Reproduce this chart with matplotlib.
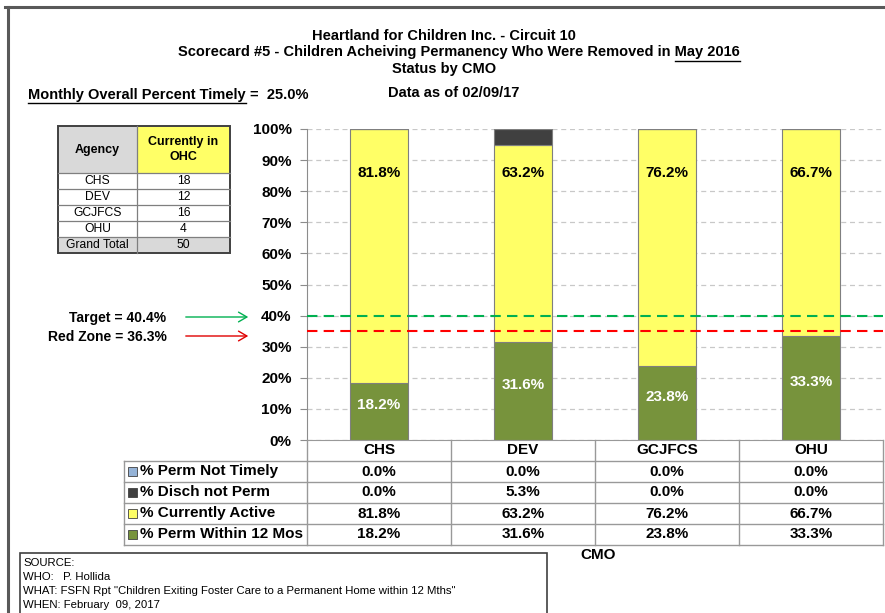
import matplotlib
matplotlib.use('Agg')
import matplotlib.pyplot as plt
from matplotlib import font_manager
from matplotlib.patches import Rectangle, FancyArrowPatch
from matplotlib.lines import Line2D
import numpy as np

# ---------------- data ----------------
categories = ['CHS', 'DEV', 'GCJFCS', 'OHU']
series_names = ['% Perm Not Timely', '% Disch not Perm', '% Currently Active', '% Perm Within 12 Mos']
perm_not_timely = [0.0, 0.0, 0.0, 0.0]
disch_not_perm = [0.0, 5.3, 0.0, 0.0]
currently_active = [81.8, 63.2, 76.2, 66.7]
perm_within_12 = [18.2, 31.6, 23.8, 33.3]
yticks = [0, 10, 20, 30, 40, 50, 60, 70, 80, 90, 100]

agencies = ['CHS', 'DEV', 'GCJFCS', 'OHU', 'Grand Total']
ohc_counts = [18, 12, 16, 4, 50]

overall_timely = 25.0
data_as_of = '02/09/17'
target_label_value = 40.4
red_zone_label_value = 36.3
target_line_value = 40.0
red_line_value = 35.0

source_lines = ['SOURCE:',
                'WHO:   P. Hollida',
                'WHAT: FSFN Rpt "Children Exiting Foster Care to a Permanent Home within 12 Mths"',
                'WHEN: February  09, 2017']

# ---------------- styles ----------------
names = {f.name for f in font_manager.fontManager.ttflist}
NARROW = 'Liberation Sans Narrow' if 'Liberation Sans Narrow' in names else 'Liberation Sans'
ARIAL = 'Liberation Sans'
plt.rcParams['font.family'] = [ARIAL, 'DejaVu Sans']
TSIZE = 10.5

C_BLUE = '#95B3D7'
C_DARK = '#404040'
C_YEL = '#FFFF66'
C_GREEN = '#77933C'
series_colors = [C_BLUE, C_DARK, C_YEL, C_GREEN]
GRID = '#999999'

W, H = 885, 613
fig = plt.figure(figsize=(W / 100, H / 100), dpi=100)


def fx(x):
    return x / W


def fy(y):
    return 1 - y / H


AX_L, AX_R, AX_T, AX_B = 307, 883, 129, 440
ax = fig.add_axes([fx(AX_L), fy(AX_B), (AX_R - AX_L) / W, (AX_B - AX_T) / H])

x = np.arange(len(categories))
bw = 0.4
edge = '#7F7F7F'
b0 = np.zeros(len(categories))
ax.bar(x, perm_within_12, bw, bottom=b0, color=C_GREEN, edgecolor=edge, lw=0.8, zorder=2)
b1 = b0 + np.array(perm_within_12)
ax.bar(x, currently_active, bw, bottom=b1, color=C_YEL, edgecolor=edge, lw=0.8, zorder=2)
b2 = b1 + np.array(currently_active)
ax.bar(x, disch_not_perm, bw, bottom=b2, color=C_DARK, edgecolor=edge, lw=0.8, zorder=2)
b3 = b2 + np.array(disch_not_perm)
ax.bar(x, perm_not_timely, bw, bottom=b3, color=C_BLUE, edgecolor=edge, lw=0.8, zorder=2)

for i in range(len(categories)):
    ax.text(x[i], 85.7, f'{currently_active[i]:.1f}%', ha='center', va='center',
            fontsize=11, fontweight='bold', color='black', zorder=4)
    ax.text(x[i], perm_within_12[i] / 2 + 2.0, f'{perm_within_12[i]:.1f}%', ha='center', va='center',
            fontsize=11, fontweight='bold', color='white', zorder=4)

ax.axhline(target_line_value, color='#00B050', lw=1.5, ls=(0, (5, 3)), zorder=3)
ax.axhline(red_line_value, color='#FF0000', lw=1.5, ls=(0, (5, 3)), zorder=3)

ax.set_xlim(-0.5, len(categories) - 0.5)
ax.set_ylim(0, 100)
ax.set_yticks(yticks)
ax.set_yticklabels([f'{v}%' for v in yticks], fontsize=11, fontweight='bold')
ax.set_xticks([])
ax.yaxis.grid(True, color='#C8C8C8', lw=0.9, ls=(0, (4, 3)), zorder=0)
ax.set_axisbelow(True)
for s in ['top', 'right']:
    ax.spines[s].set_visible(False)
ax.spines['left'].set_color('#8C8C8C')
ax.spines['bottom'].set_color(GRID)
ax.tick_params(axis='y', length=5, color='#8C8C8C', pad=6)


def fline(xs, ys, color=GRID, lw=1.0, **kw):
    fig.add_artist(Line2D([fx(v) for v in xs], [fy(v) for v in ys], color=color, lw=lw, **kw))


# ---------------- data table under chart ----------------
col_w = (AX_R - AX_L) / len(categories)
col_edges = [AX_L + i * col_w for i in range(len(categories) + 1)]
col_centers = [AX_L + (i + 0.5) * col_w for i in range(len(categories))]
TAB_L = 124
row_edges = [440, 461, 482, 503, 524, 545]
row_centers = [(row_edges[i] + row_edges[i + 1]) / 2 for i in range(5)]

for ce in col_edges:
    fline([ce, ce], [440, 545])
fline([TAB_L, TAB_L], [461, 545])
for ry in row_edges[1:]:
    fline([TAB_L, AX_R], [ry, ry])

for i, c in enumerate(categories):
    fig.text(fx(col_centers[i]), fy(row_centers[0]), c, ha='center', va='center',
             fontsize=11, fontweight='bold')

table_rows = [perm_not_timely, disch_not_perm, currently_active, perm_within_12]
for r, (name, vals, col) in enumerate(zip(series_names, table_rows, series_colors)):
    yc = row_centers[r + 1]
    fig.add_artist(Rectangle((fx(128), fy(yc + 4.5)), 9 / W, 9 / H, facecolor=col,
                             edgecolor='#404040', lw=0.6))
    fig.text(fx(140), fy(yc), name, ha='left', va='center', fontsize=11, fontweight='bold')
    for i, v in enumerate(vals):
        fig.text(fx(col_centers[i]), fy(yc), f'{v:.1f}%', ha='center', va='center',
                 fontsize=11, fontweight='bold')

fig.text(fx(598), fy(555), 'CMO', ha='center', va='center', fontsize=11, fontweight='bold')

# ---------------- inset table ----------------
it_x = [58, 137, 230]
it_y = [126, 173, 189, 205, 221, 237, 253]
fig.add_artist(Rectangle((fx(it_x[0]), fy(it_y[1])), (it_x[1] - it_x[0]) / W, (it_y[1] - it_y[0]) / H,
                         facecolor='#D9D9D9', edgecolor='none'))
fig.add_artist(Rectangle((fx(it_x[1]), fy(it_y[1])), (it_x[2] - it_x[1]) / W, (it_y[1] - it_y[0]) / H,
                         facecolor=C_YEL, edgecolor='none'))
fig.add_artist(Rectangle((fx(it_x[0]), fy(it_y[6])), (it_x[2] - it_x[0]) / W, (it_y[6] - it_y[5]) / H,
                         facecolor='#D9D9D9', edgecolor='none'))
for yy in it_y[1:-1]:
    fline([it_x[0], it_x[2]], [yy, yy], color='#7F7F7F', lw=0.9)
fline([it_x[1], it_x[1]], [it_y[0], it_y[-1]], color='#7F7F7F', lw=0.9)
fig.add_artist(Rectangle((fx(it_x[0]), fy(it_y[-1])), (it_x[2] - it_x[0]) / W, (it_y[-1] - it_y[0]) / H,
                         facecolor='none', edgecolor='#404040', lw=1.4))
fig.text(fx((it_x[0] + it_x[1]) / 2), fy((it_y[0] + it_y[1]) / 2), 'Agency', ha='center', va='center',
         fontsize=9, fontweight='bold')
fig.text(fx((it_x[1] + it_x[2]) / 2), fy((it_y[0] + it_y[1]) / 2), 'Currently in\nOHC', ha='center',
         va='center', fontsize=9, fontweight='bold', linespacing=1.25)
for k, (a, n) in enumerate(zip(agencies, ohc_counts)):
    yc = (it_y[k + 1] + it_y[k + 2]) / 2
    fig.text(fx((it_x[0] + it_x[1]) / 2), fy(yc), a, ha='center', va='center', fontsize=8.7)
    fig.text(fx((it_x[1] + it_x[2]) / 2), fy(yc), str(n), ha='center', va='center', fontsize=8.7)

# ---------------- target / red zone annotations ----------------
fig.text(fx(166), fy(318), f'Target = {target_label_value:.1f}%', ha='right', va='center',
         fontsize=10, fontweight='bold')
fig.text(fx(167), fy(337), f'Red Zone = {red_zone_label_value:.1f}%', ha='right', va='center',
         fontsize=10, fontweight='bold')
fig.add_artist(FancyArrowPatch((fx(183), fy(317)), (fx(251), fy(317)),
               transform=fig.transFigure, arrowstyle='->,head_length=6,head_width=3.5',
               color='#00B050', lw=1.0))
fig.add_artist(FancyArrowPatch((fx(183), fy(336)), (fx(251), fy(336)),
               transform=fig.transFigure, arrowstyle='->,head_length=6,head_width=3.5',
               color='#E00000', lw=1.0))

# ---------------- titles ----------------
fig.text(fx(444), fy(36), 'Heartland for Children Inc. - Circuit 10', ha='center', va='center',
         fontsize=TSIZE, fontweight='bold', family=NARROW)
t2 = fig.text(fx(459), fy(52), 'Scorecard #5 - Children Acheiving Permanency Who Were Removed in May 2016',
              ha='center', va='center', fontsize=TSIZE, fontweight='bold', family=NARROW)
fig.text(fx(444), fy(69), 'Status by CMO', ha='center', va='center', fontsize=TSIZE,
         fontweight='bold', family=NARROW)
tm = fig.text(fx(28), fy(95), 'Monthly Overall Percent Timely', ha='left', va='center',
              fontsize=TSIZE, fontweight='bold', family=NARROW)
fig.text(fx(388), fy(93), f'Data as of {data_as_of}', ha='left', va='center', fontsize=TSIZE,
         fontweight='bold', family=NARROW)
tmay = fig.text(0, 0, 'May 2016', fontsize=TSIZE, fontweight='bold', family=NARROW, alpha=0)

fig.canvas.draw()
r = fig.canvas.get_renderer()
bb2 = t2.get_window_extent(r)
wmay = tmay.get_window_extent(r).width
fig.add_artist(Line2D([(bb2.x1 - wmay) / W, bb2.x1 / W], [fy(60.5), fy(60.5)], color='black', lw=1.0))
bbm = tm.get_window_extent(r)
fig.add_artist(Line2D([bbm.x0 / W, bbm.x1 / W], [fy(103.5), fy(103.5)], color='black', lw=1.0))
fig.text(bbm.x1 / W + 4 / W, fy(95), f'=  {overall_timely:.1f}%', ha='left', va='center',
         fontsize=TSIZE, fontweight='bold', family=NARROW)

# ---------------- source box ----------------
fig.add_artist(Rectangle((fx(20), fy(625)), (547 - 20) / W, (625 - 553) / H, facecolor='white',
                         edgecolor='#404040', lw=1.2))
for k, s in enumerate(source_lines):
    fig.text(fx(23), fy(563 + 14 * k), s, ha='left', va='center', fontsize=8.2)

# ---------------- outer frame ----------------
fline([5, 885], [7, 7], color='#595959', lw=2.2)
fline([8, 8], [7, 613], color='#595959', lw=2.2)

fig.savefig('out.png', dpi=100)
